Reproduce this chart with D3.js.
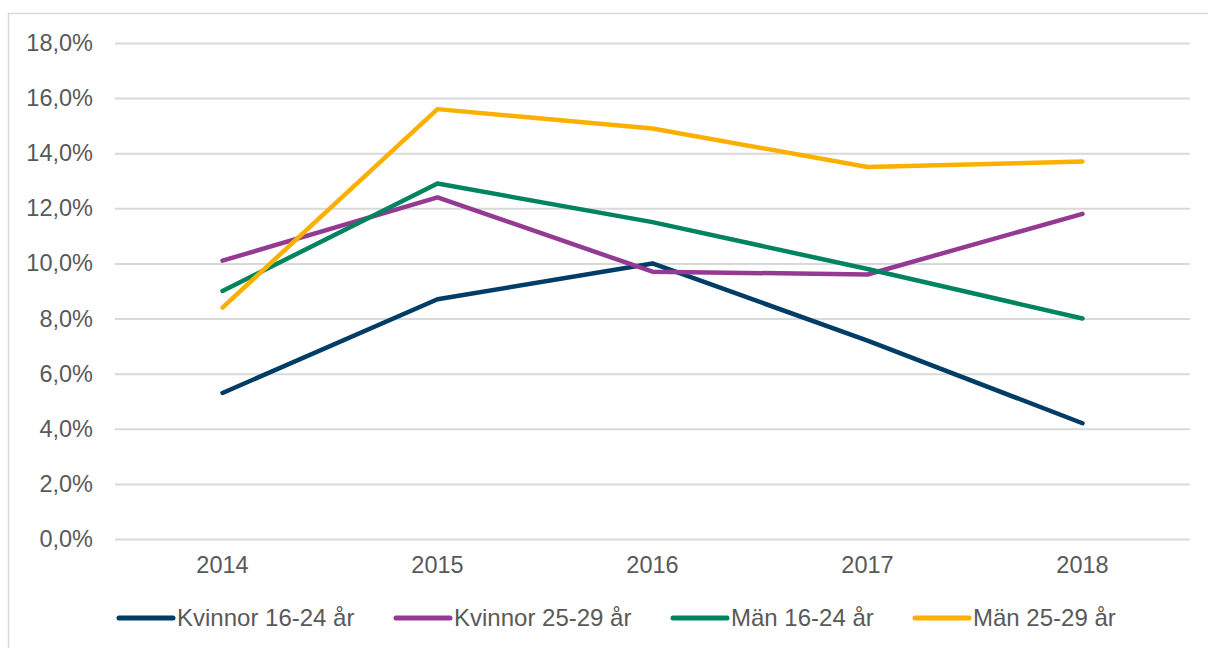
<!DOCTYPE html>
<html>
<head>
<meta charset="utf-8">
<script src="https://cdn.jsdelivr.net/npm/d3@7"></script>
<style>
  body { margin: 0; background: #fff; }
  svg { display: block; font-family: "Liberation Sans", Arial, sans-serif; }
</style>
</head>
<body>
<div id="chart"></div>
<script>
var years = ["2014", "2015", "2016", "2017", "2018"];
var seriesNames = ["Kvinnor 16-24 år", "Kvinnor 25-29 år", "Män 16-24 år", "Män 25-29 år"];
var kvinnor1624 = [5.3, 8.7, 10.0, 7.2, 4.2];
var kvinnor2529 = [10.1, 12.4, 9.7, 9.6, 11.8];
var man1624 = [9.0, 12.9, 11.5, 9.8, 8.0];
var man2529 = [8.4, 15.6, 14.9, 13.5, 13.7];
var yTicks = [0, 2, 4, 6, 8, 10, 12, 14, 16, 18];
var colors = ["#003d66", "#953a92", "#00845f", "#fbb000"];

var allSeries = [kvinnor1624, kvinnor2529, man1624, man2529];

var width = 1208, height = 648;
var plotLeft = 115, plotRight = 1190, plotTop = 43, plotBottom = 539;

var svg = d3.select("#chart")
  .append("svg")
    .attr("width", width)
    .attr("height", height);

// outer frame
svg.append("rect")
  .attr("x", 8.5).attr("y", 13.5)
  .attr("width", width + 10).attr("height", height + 10)
  .attr("fill", "none")
  .attr("stroke", "#d9d9d9")
  .attr("stroke-width", 1.5);

var x = d3.scaleBand()
  .domain(years)
  .range([plotLeft, plotRight]);

var y = d3.scaleLinear()
  .domain([0, 18])
  .range([plotBottom, plotTop]);

// grid + y labels
var yAxis = svg.append("g")
  .attr("transform", "translate(" + plotLeft + ",0)")
  .call(d3.axisLeft(y)
    .tickValues(yTicks)
    .tickSize(-(plotRight - plotLeft))
    .tickPadding(22)
    .tickFormat(function(d) { return d.toFixed(1).replace(".", ",") + "%"; }));
yAxis.select(".domain").remove();
yAxis.selectAll("line").attr("stroke", "#d9d9d9").attr("stroke-width", 2);
yAxis.selectAll("text")
  .attr("fill", "#595959")
  .style("font-size", "23.5px")
  .attr("font-family", null);

// x labels
var xAxis = svg.append("g")
  .attr("transform", "translate(0," + plotBottom + ")")
  .call(d3.axisBottom(x).tickSize(0).tickPadding(17));
xAxis.select(".domain").remove();
xAxis.selectAll("text")
  .attr("fill", "#595959")
  .style("font-size", "23.5px")
  .attr("font-family", null);

var line = d3.line()
  .x(function(d, i) { return x(years[i]) + x.bandwidth() / 2; })
  .y(function(d) { return y(d); });

svg.selectAll(".series")
  .data(allSeries)
  .enter()
  .append("path")
    .attr("class", "series")
    .attr("d", line)
    .attr("fill", "none")
    .attr("stroke", function(d, i) { return colors[i]; })
    .attr("stroke-width", 4.5)
    .attr("stroke-linejoin", "round")
    .attr("stroke-linecap", "round");

// legend
var legendX = [119, 396, 673, 915];
var legend = svg.selectAll(".legend")
  .data(seriesNames)
  .enter()
  .append("g")
    .attr("class", "legend")
    .attr("transform", function(d, i) { return "translate(" + legendX[i] + ",618)"; });

legend.append("line")
  .attr("x1", 0).attr("x2", 54)
  .attr("stroke", function(d, i) { return colors[i]; })
  .attr("stroke-width", 5)
  .attr("stroke-linecap", "round");

legend.append("text")
  .attr("x", 58)
  .attr("dy", "0.35em")
  .attr("fill", "#595959")
  .style("font-size", "24px")
  .text(function(d) { return d; });
</script>
</body>
</html>
